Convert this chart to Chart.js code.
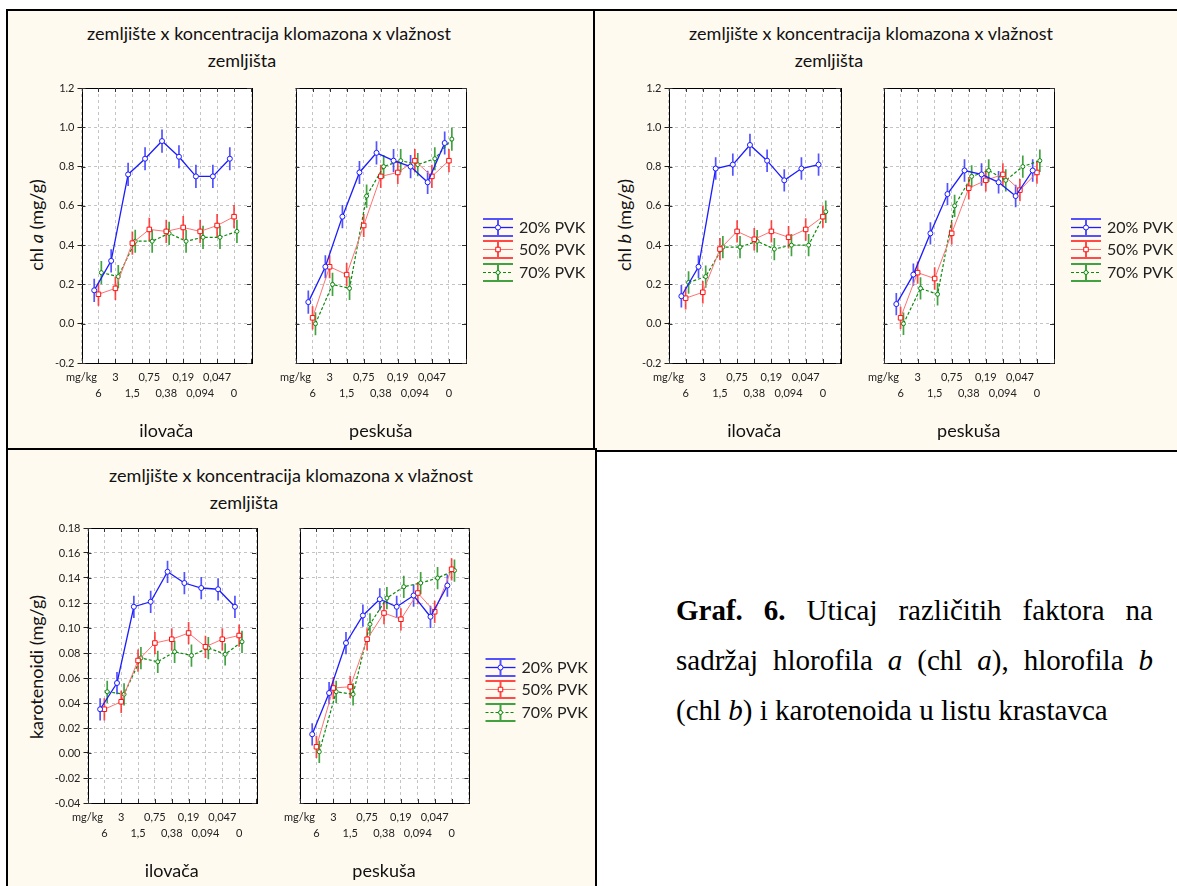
<!DOCTYPE html>
<html>
<head>
<meta charset="utf-8">
<script src="https://cdn.jsdelivr.net/npm/chart.js@4.4.1/dist/chart.umd.min.js"></script>
<style>
  body { margin: 0; background: #fff; width: 1177px; height: 886px; overflow: hidden; position: relative; font-family: Lato, sans-serif; }
  .panel { position: absolute; background: #fffaf0; border: 2px solid #000; box-sizing: border-box; }
  .ttl { position: absolute; font-size: 18px; color: #111; white-space: nowrap; transform: translate(-50%, -50%); }
  .ylab { position: absolute; font-size: 18px; color: #111; white-space: nowrap; transform: translate(-50%, -50%) rotate(-90deg); }
  canvas { position: absolute; }
  .cap { position: absolute; left: 676px; top: 585px; width: 477px; font: 29px/50px "Liberation Serif", "Times New Roman", serif; text-align: justify; color: #000; }
</style>
</head>
<body>
<div class="panel" style="left:6px;top:9px;width:591px;height:443px"></div>
<div class="panel" style="left:593px;top:9px;width:590px;height:443px"></div>
<div class="panel" style="left:6px;top:448px;width:591px;height:450px"></div>

<div class="ttl" style="left:269px;top:33px">zemljište x koncentracija klomazona x vlažnost</div>
<div class="ttl" style="left:242px;top:60px">zemljišta</div>
<div class="ttl" style="left:871px;top:33px">zemljište x koncentracija klomazona x vlažnost</div>
<div class="ttl" style="left:829px;top:60px">zemljišta</div>
<div class="ttl" style="left:291px;top:475px">zemljište x koncentracija klomazona x vlažnost</div>
<div class="ttl" style="left:244px;top:502px">zemljišta</div>

<div class="ylab" style="left:36px;top:225px">chl <i>a</i> (mg/g)</div>
<div class="ylab" style="left:624px;top:225px">chl <i>b</i> (mg/g)</div>
<div class="ylab" style="left:36px;top:667px">karotenoidi (mg/g)</div>

<canvas id="a1"></canvas><canvas id="a2"></canvas>
<canvas id="b1"></canvas><canvas id="b2"></canvas>
<canvas id="c1"></canvas><canvas id="c2"></canvas>

<div class="cap"><b>Graf. 6.</b> Uticaj različitih faktora na sadržaj hlorofila <i>a</i> (chl <i>a</i>), hlorofila <i>b</i> (chl <i>b</i>) i karotenoida u listu krastavca</div>

<script>
// koncentracija klomazona (mg/kg), od najveće do nule
const doses = ['6', '3', '1,5', '0,75', '0,38', '0,19', '0,094', '0,047', '0'];
const unitLabel = 'mg/kg';
const soils = ['ilovača', 'peskuša'];
const seriesNames = ['20% PVK', '50% PVK', '70% PVK'];

// chl a (mg/g)
const chlA_ilo_20 = [0.17, 0.32, 0.76, 0.84, 0.93, 0.85, 0.75, 0.75, 0.84];
const chlA_ilo_50 = [0.15, 0.18, 0.41, 0.48, 0.47, 0.49, 0.47, 0.50, 0.545];
const chlA_ilo_70 = [0.26, 0.24, 0.42, 0.42, 0.46, 0.42, 0.44, 0.44, 0.47];
const chlA_pes_20 = [0.11, 0.29, 0.545, 0.77, 0.87, 0.83, 0.80, 0.72, 0.92];
const chlA_pes_50 = [0.03, 0.29, 0.25, 0.50, 0.75, 0.77, 0.83, 0.75, 0.83];
const chlA_pes_70 = [0.00, 0.20, 0.18, 0.65, 0.80, 0.83, 0.81, 0.84, 0.94];
const chlA_err = 0.059;

// chl b (mg/g)
const chlB_ilo_20 = [0.14, 0.29, 0.79, 0.81, 0.91, 0.83, 0.73, 0.79, 0.81];
const chlB_ilo_50 = [0.13, 0.16, 0.38, 0.47, 0.43, 0.47, 0.44, 0.48, 0.545];
const chlB_ilo_70 = [0.21, 0.24, 0.39, 0.39, 0.42, 0.38, 0.40, 0.40, 0.57];
const chlB_pes_20 = [0.10, 0.25, 0.46, 0.66, 0.78, 0.76, 0.72, 0.65, 0.78];
const chlB_pes_50 = [0.03, 0.26, 0.23, 0.46, 0.69, 0.73, 0.76, 0.68, 0.77];
const chlB_pes_70 = [0.00, 0.18, 0.15, 0.60, 0.75, 0.78, 0.73, 0.80, 0.83];
const chlB_err = 0.057;

// karotenoidi (mg/g)
const kar_ilo_20 = [0.035, 0.056, 0.117, 0.121, 0.145, 0.136, 0.132, 0.131, 0.117];
const kar_ilo_50 = [0.035, 0.041, 0.074, 0.088, 0.091, 0.096, 0.085, 0.091, 0.094];
const kar_ilo_70 = [0.049, 0.047, 0.076, 0.073, 0.081, 0.078, 0.084, 0.079, 0.089];
const kar_pes_20 = [0.015, 0.048, 0.088, 0.110, 0.123, 0.117, 0.126, 0.109, 0.134];
const kar_pes_50 = [0.005, 0.052, 0.053, 0.091, 0.112, 0.107, 0.128, 0.113, 0.147];
const kar_pes_70 = [0.001, 0.049, 0.047, 0.103, 0.124, 0.133, 0.136, 0.140, 0.146];
const kar_err = 0.0089;

const chlRange = [-0.2, 1.2, 0.2];
const karRange = [-0.04, 0.18, 0.02];

Chart.defaults.font.family = 'Lato, sans-serif';
Chart.defaults.color = '#222';

// izgled serija (plava, crvena, zelena)
const looks = [
    { line: '#1c1cff', err: 'rgba(40,40,255,0.8)', dash: [], lw: 1.3, style: 'circle', r: 2.5 },
    { line: '#ff7272', err: 'rgba(255,30,30,0.8)', dash: [], lw: 1, style: 'rect', r: 3.2, mark: '#ff1010' },
    { line: '#0b8a0b', err: 'rgba(20,140,20,0.8)', dash: [3, 2], lw: 1.2, style: 'circle', r: 2 }
];
const xShift = [-0.25, 0, 0.17];

function xTickLabel(v) {
    if (v === 0) return [unitLabel, ''];
    if (v < 1 || v > 9) return '';
    return v % 2 === 0 ? [doses[v - 1], ''] : ['', doses[v - 1]];
}

const plotBack = {
    id: 'plotBack',
    beforeDraw(chart) {
        const { ctx, chartArea: a } = chart;
        ctx.save();
        ctx.fillStyle = '#fff';
        ctx.fillRect(a.left, a.top, a.width, a.height);
        ctx.restore();
    },
    beforeDatasetsDraw(chart) {
        const { ctx, chartArea: a, scales: { x, y } } = chart;
        ctx.save();
        ctx.strokeStyle = '#000';
        ctx.lineWidth = 1;
        ctx.strokeRect(Math.round(a.left) + 0.5, Math.round(a.top) + 0.5, Math.round(a.width), Math.round(a.height));
        ctx.strokeStyle = '#333';
        ctx.beginPath();
        x.ticks.forEach(t => {
            const px = Math.round(x.getPixelForValue(t.value)) + 0.5;
            ctx.moveTo(px, a.bottom); ctx.lineTo(px, a.bottom - 4);
            ctx.moveTo(px, a.top); ctx.lineTo(px, a.top + 4);
        });
        y.ticks.forEach(t => {
            const py = Math.round(y.getPixelForValue(t.value)) + 0.5;
            ctx.moveTo(a.left, py); ctx.lineTo(a.left + 4, py);
            ctx.moveTo(a.right, py); ctx.lineTo(a.right - 4, py);
        });
        ctx.stroke();
        // error bars
        const err = chart.options.plugins.errorBars.err;
        chart.data.datasets.forEach(ds => {
            ctx.strokeStyle = ds.errColor;
            ctx.lineWidth = 1.7;
            ctx.beginPath();
            ds.data.forEach(p => {
                const px = x.getPixelForValue(p.x);
                ctx.moveTo(px, y.getPixelForValue(p.y - err));
                ctx.lineTo(px, y.getPixelForValue(p.y + err));
            });
            ctx.stroke();
        });
        ctx.restore();
    }
};

const legendBox = {
    id: 'legendBox',
    afterDraw(chart) {
        if (!chart.options.plugins.legendBox.show) return;
        const { ctx, chartArea: a } = chart;
        const x0 = a.left + a.width + 17;
        const rows = [139, 161, 184];
        ctx.save();
        chart.data.datasets.forEach((ds, i) => {
            const lk = looks[i];
            const my = Math.round(a.top + rows[i]) + 0.5;
            ctx.strokeStyle = lk.err;
            ctx.lineWidth = 2;
            ctx.setLineDash([]);
            ctx.beginPath();
            ctx.moveTo(x0, my - 8.5); ctx.lineTo(x0 + 30, my - 8.5);
            ctx.moveTo(x0, my + 8.5); ctx.lineTo(x0 + 30, my + 8.5);
            ctx.moveTo(x0 + 15, my - 8.5); ctx.lineTo(x0 + 15, my + 8.5);
            ctx.stroke();
            ctx.strokeStyle = lk.line;
            ctx.lineWidth = lk.lw;
            ctx.setLineDash(lk.dash);
            ctx.beginPath();
            ctx.moveTo(x0, my); ctx.lineTo(x0 + 30, my);
            ctx.stroke();
            ctx.setLineDash([]);
            ctx.fillStyle = '#fff';
            ctx.strokeStyle = lk.mark || lk.line;
            ctx.lineWidth = 1;
            Chart.helpers.drawPoint(ctx, { pointStyle: lk.style, radius: lk.r, borderWidth: 1, rotation: 0 }, x0 + 15, my);
            ctx.fillStyle = '#222';
            ctx.font = '16px Lato, sans-serif';
            ctx.textBaseline = 'middle';
            ctx.fillText(seriesNames[i], x0 + 36, my);
        });
        ctx.restore();
    }
};

function makeChart(id, box, soil, series, range, err, decimals, first) {
    const cv = document.getElementById(id);
    cv.width = box.w; cv.height = box.h;
    cv.style.left = box.left + 'px'; cv.style.top = box.top + 'px';
    const datasets = series.map((vals, i) => ({
        label: seriesNames[i],
        data: vals.map((v, k) => ({ x: k + 1 + xShift[i], y: v })),
        errColor: looks[i].err,
        borderColor: looks[i].line,
        borderWidth: looks[i].lw,
        borderDash: looks[i].dash,
        pointStyle: looks[i].style,
        pointRadius: looks[i].r,
        pointBorderColor: looks[i].mark || looks[i].line,
        pointBackgroundColor: '#fff',
        pointBorderWidth: 1,
        tension: 0,
        fill: false
    }));
    return new Chart(cv, {
        type: 'line',
        data: { datasets },
        plugins: [plotBack, legendBox],
        options: {
            responsive: false,
            animation: false,
            devicePixelRatio: 1,
            clip: false,
            layout: { padding: box.pad },
            plugins: {
                legend: { display: false },
                tooltip: { enabled: false },
                errorBars: { err },
                legendBox: { show: !first }
            },
            scales: {
                x: {
                    type: 'linear', min: 0, max: 10,
                    afterFit: s => { s.height = 82; },
                    ticks: {
                        stepSize: 1, autoSkip: false, maxRotation: 0, minRotation: 0, padding: 6,
                        font: { size: 11, lineHeight: '16px' }, color: '#222',
                        callback: v => xTickLabel(v)
                    },
                    grid: { color: '#c4c4c4', drawTicks: false },
                    border: { display: false, dash: [3, 3] },
                    title: { display: true, text: soil, font: { size: 18 }, color: '#111', padding: { top: 0, bottom: 3 } }
                },
                y: {
                    min: range[0], max: range[1],
                    afterFit: s => { s.width = box.yw; },
                    ticks: {
                        display: first, stepSize: range[2], padding: 3,
                        font: { size: 11 }, color: '#222',
                        callback: v => (Math.abs(v) < 1e-9 ? 0 : v).toFixed(decimals)
                    },
                    grid: { color: '#c4c4c4', drawTicks: first, tickLength: 4, tickColor: '#222', tickBorderDash: [] },
                    border: { display: false, dash: [3, 3] }
                }
            }
        }
    });
}

// raspored: lijevi rub panela, vrh plota, granice oba plota
const layouts = [
    { ids: ['a1', 'a2'], panelL: 8, top: 88, p1: [81.5, 257], p2: [290, 466], data: [[chlA_ilo_20, chlA_ilo_50, chlA_ilo_70], [chlA_pes_20, chlA_pes_50, chlA_pes_70]], range: chlRange, err: chlA_err, dec: 1 },
    { ids: ['b1', 'b2'], panelL: 595, top: 88, p1: [668.5, 845.5], p2: [877.5, 1053.5], data: [[chlB_ilo_20, chlB_ilo_50, chlB_ilo_70], [chlB_pes_20, chlB_pes_50, chlB_pes_70]], range: chlRange, err: chlB_err, dec: 1 },
    { ids: ['c1', 'c2'], panelL: 8, top: 528, p1: [87.5, 262], p2: [293.5, 468], data: [[kar_ilo_20, kar_ilo_50, kar_ilo_70], [kar_pes_20, kar_pes_50, kar_pes_70]], range: karRange, err: kar_err, dec: 2 }
];

layouts.forEach(L => {
    const h = 10 + 275 + 82;
    makeChart(L.ids[0], {
        left: L.panelL, top: L.top - 10, w: Math.round(L.p1[1] - L.panelL), h,
        yw: L.p1[0] - L.panelL, pad: { top: 10, left: 0, right: 0, bottom: 0 }
    }, soils[0], L.data[0], L.range, L.err, L.dec, true);
    const left2 = Math.round(L.p2[0] - 16);
    const w2 = L.panelL + 583 - left2;
    makeChart(L.ids[1], {
        left: left2, top: L.top - 10, w: w2, h,
        yw: 0, pad: { top: 10, left: 16, right: w2 - 16 - (L.p2[1] - L.p2[0]), bottom: 0 }
    }, soils[1], L.data[1], L.range, L.err, L.dec, false);
});
</script>
</body>
</html>
